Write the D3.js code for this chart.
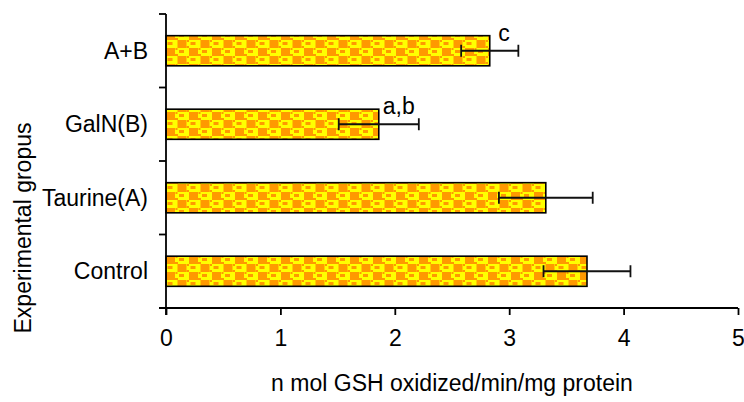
<!DOCTYPE html>
<html>
<head>
<meta charset="utf-8">
<script src="https://cdn.jsdelivr.net/npm/d3@7"></script>
<style>
  html, body { margin: 0; padding: 0; background: #fff; }
  svg { display: block; font-family: "Liberation Sans", Arial, sans-serif; }
</style>
</head>
<body>
<svg id="chart" width="744" height="402"></svg>
<script>
// Groups, top to bottom
const groups = ["A+B", "GalN(B)", "Taurine(A)", "Control"];
// Mean activity (n mol GSH oxidized/min/mg protein)
const means = [2.83, 1.86, 3.32, 3.68];
// Standard deviation for each group
const sds = [0.25, 0.35, 0.41, 0.38];
// Significance letters
const letters = ["c", "a,b", "", ""];
// X axis ticks
const xTicks = [0, 1, 2, 3, 4, 5];

const svg = d3.select("#chart");
const plotLeft = 166, plotRight = 738, plotTop = 14, plotBottom = 308;
const fontSize = 23;

const x = d3.scaleLinear().domain([0, 5]).range([plotLeft, plotRight]);
const y = d3.scaleBand().domain(groups).range([plotTop, plotBottom])
  .paddingInner(0.59).paddingOuter(0.295);

// checkered fill
const defs = svg.append("defs");
const pat = defs.append("pattern")
  .attr("id", "checker")
  .attr("patternUnits", "userSpaceOnUse")
  .attr("width", 23).attr("height", 16)
  .attr("x", plotLeft).attr("y", 0);
pat.append("rect").attr("width", 23).attr("height", 16).attr("fill", "#FFFF00");
const orange = "#FF9900";
[
  [0, 0, 9, 8], [11.5, 8, 9, 8],
  [13, 2, 5, 3], [1.5, 10, 5, 3],
  [9, 6, 3, 2], [20.5, 14, 3, 2],
  [9.5, 0, 2, 2], [21, 8, 2, 2]
].forEach(([rx, ry, w, h]) => {
  pat.append("rect").attr("x", rx).attr("y", ry).attr("width", w).attr("height", h).attr("fill", orange);
});

const data = groups.map((g, i) => ({ g, m: means[i], sd: sds[i], lab: letters[i] }));

// bars
svg.append("g").selectAll("rect").data(data).join("rect")
  .attr("x", x(0))
  .attr("y", d => y(d.g))
  .attr("width", d => x(d.m) - x(0))
  .attr("height", y.bandwidth())
  .attr("fill", "url(#checker)")
  .attr("stroke", "#000")
  .attr("stroke-width", 1.6);

// error bars
const eb = svg.append("g").attr("stroke", "#111").attr("stroke-width", 1.8);
data.forEach(d => {
  const cy = y(d.g) + y.bandwidth() / 2;
  eb.append("line").attr("x1", x(d.m - d.sd)).attr("x2", x(d.m + d.sd)).attr("y1", cy).attr("y2", cy);
  [d.m - d.sd, d.m + d.sd].forEach(v => {
    eb.append("line").attr("x1", x(v)).attr("x2", x(v)).attr("y1", cy - 6).attr("y2", cy + 6);
  });
});

// significance letters
svg.append("g").selectAll("text").data(data.filter(d => d.lab)).join("text")
  .attr("x", d => x(d.m + d.sd / 2))
  .attr("y", d => y(d.g) + y.bandwidth() / 2 - 10)
  .attr("text-anchor", "middle")
  .attr("font-size", fontSize)
  .attr("fill", "#000")
  .text(d => d.lab);

// x axis
const xAxis = svg.append("g").attr("transform", `translate(0,${plotBottom})`)
  .call(d3.axisBottom(x).tickValues(xTicks).tickSize(7).tickPadding(15).tickFormat(d3.format("d")));
xAxis.select(".domain").attr("stroke", "#000").attr("stroke-width", 1.8).attr("d", `M${plotLeft - 7},0H${plotRight}`);
xAxis.selectAll(".tick line").attr("stroke", "#000").attr("stroke-width", 1.8);
xAxis.selectAll("text").attr("font-size", fontSize).attr("fill", "#000").attr("font-family", "Liberation Sans, Arial, sans-serif");

// y axis: ticks on band boundaries
const yAxis = svg.append("g").attr("transform", `translate(${plotLeft},0)`);
yAxis.append("line").attr("x1", 0).attr("x2", 0).attr("y1", plotTop).attr("y2", plotBottom + 7)
  .attr("stroke", "#000").attr("stroke-width", 1.8);
const bounds = groups.map((g, i) => i === 0 ? plotTop : y(g) - y.step() * y.paddingInner() / 2)
  .concat([plotBottom]);
yAxis.selectAll("line.tk").data(bounds).join("line").attr("class", "tk")
  .attr("x1", -7).attr("x2", 0).attr("y1", d => d).attr("y2", d => d)
  .attr("stroke", "#000").attr("stroke-width", 1.8);
yAxis.selectAll("text").data(groups).join("text")
  .attr("x", -18)
  .attr("y", d => y(d) + y.bandwidth() / 2)
  .attr("dy", "0.35em")
  .attr("text-anchor", "end")
  .attr("font-size", fontSize)
  .attr("fill", "#000")
  .text(d => d);

// axis titles
svg.append("text")
  .attr("x", (plotLeft + plotRight) / 2).attr("y", 391)
  .attr("text-anchor", "middle").attr("font-size", fontSize).attr("fill", "#000")
  .text("n mol GSH oxidized/min/mg protein");
svg.append("text")
  .attr("transform", "translate(31,228) rotate(-90)")
  .attr("text-anchor", "middle").attr("font-size", fontSize).attr("fill", "#000")
  .text("Experimental gropus");
</script>
</body>
</html>
